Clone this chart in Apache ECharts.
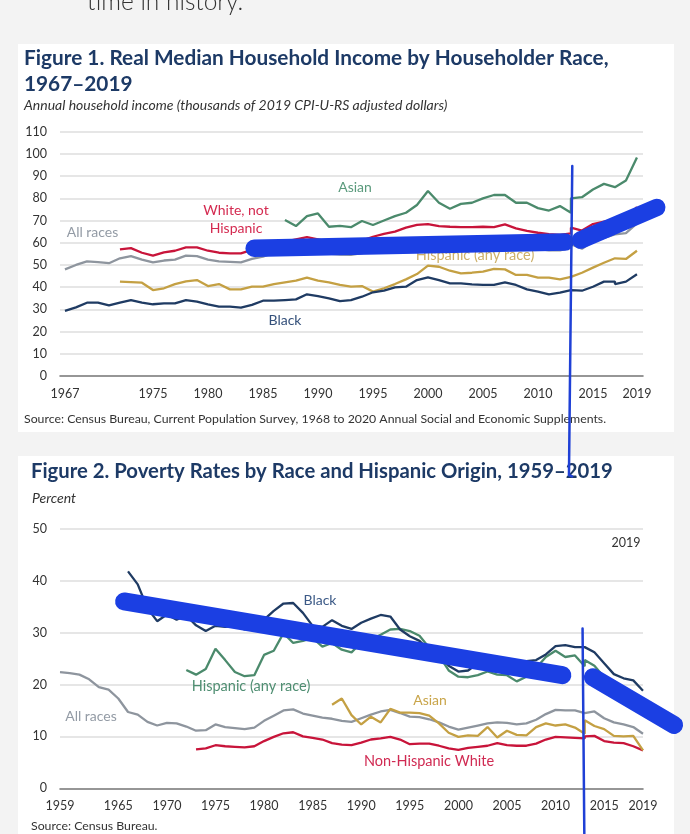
<!DOCTYPE html>
<html>
<head>
<meta charset="utf-8">
<script src="https://cdn.jsdelivr.net/npm/echarts@6/dist/echarts.min.js"></script>
<style>
html,body{margin:0;padding:0;background:#f3f3f3;width:690px;height:834px;overflow:hidden;}
.card{position:absolute;background:#ffffff;}
#c1{left:18px;top:44px;width:656px;height:388px;}
#c2{left:18px;top:456px;width:656px;height:400px;}
#chart{position:absolute;left:0;top:0;width:690px;height:834px;}
</style>
</head>
<body>
<div class="card" id="c1"></div>
<div class="card" id="c2"></div>
<div id="chart"></div>
<script>
// ---------- Figure 1 data: real median household income (thousands of 2019 dollars) ----------
const incYears = [1967,1968,1969,1970,1971,1972,1973,1974,1975,1976,1977,1978,1979,1980,1981,1982,1983,1984,1985,1986,1987,1988,1989,1990,1991,1992,1993,1994,1995,1996,1997,1998,1999,2000,2001,2002,2003,2004,2005,2006,2007,2008,2009,2010,2011,2012,2013,2013,2014,2015,2016,2017,2017,2018,2019];
const incAsian = [null,null,null,null,null,null,null,null,null,null,null,null,null,null,null,null,null,null,null,null,70.2,67.5,72.0,73.2,67.2,67.6,67.0,69.8,68.0,70.0,72.0,73.5,77.0,83.3,78.0,75.3,77.5,78.0,80.0,81.5,81.5,78.0,78.0,75.6,74.5,76.5,73.5,80.0,80.5,84.0,86.5,85.0,85.0,88.0,98.4];
const incWhite = [null,null,null,null,null,57.0,57.6,55.5,54.2,55.7,56.4,57.9,57.9,56.4,55.5,55.2,55.2,56.8,57.8,59.6,60.5,61.5,62.5,61.5,60.3,60.2,60.5,61.0,62.7,64.0,65.0,66.8,68.0,68.4,67.5,67.2,67.0,67.0,67.2,67.0,68.3,66.5,65.3,64.5,63.9,63.5,64.2,66.8,65.5,68.4,69.5,70.5,70.6,70.8,76.1];
const incAll = [48.0,50.0,51.6,51.3,50.8,53.0,54.0,52.4,51.2,52.0,52.4,54.2,54.0,52.4,51.6,51.4,51.2,52.7,53.7,55.5,56.2,56.7,57.3,56.5,55.1,54.7,54.6,55.3,56.6,57.4,58.4,60.4,61.8,61.7,60.3,59.7,59.6,59.5,60.0,60.4,61.2,59.1,58.7,57.2,56.6,56.6,57.8,59.3,57.3,60.6,62.2,63.8,64.0,64.3,68.7];
const incHisp = [null,null,null,null,null,42.5,42.3,42.0,38.7,39.5,41.4,42.6,43.2,40.5,41.4,39.0,39.0,40.2,40.2,41.4,42.2,42.9,44.3,42.9,42.2,41.0,40.2,40.5,38.0,39.5,41.4,43.5,45.9,49.7,49.2,47.4,46.2,46.5,47.0,48.2,48.0,45.5,45.5,44.3,44.3,43.5,44.6,45.2,46.5,48.8,51.0,53.0,53.0,52.7,56.4];
const incBlack = [29.3,30.9,33.0,33.0,31.8,33.0,34.2,33.0,32.3,32.7,32.7,34.2,33.5,32.3,31.2,31.2,30.8,32.0,33.9,33.9,34.2,34.5,36.8,36.0,35.0,33.7,34.2,35.7,37.7,38.4,39.9,40.2,43.2,44.4,43.2,41.7,41.7,41.3,41.0,41.0,42.2,41.0,39.0,38.0,36.8,37.5,38.7,39.0,38.4,40.2,42.5,42.5,41.4,42.5,45.8];
const incXTicks = [1967,1975,1980,1985,1990,1995,2000,2005,2010,2015,2019];

// ---------- Figure 2 data: poverty rates (percent) ----------
const povYears = [1959,1960,1961,1962,1963,1964,1965,1966,1967,1968,1969,1970,1971,1972,1973,1974,1975,1976,1977,1978,1979,1980,1981,1982,1983,1984,1985,1986,1987,1988,1989,1990,1991,1992,1993,1994,1995,1996,1997,1998,1999,2000,2001,2002,2003,2004,2005,2006,2007,2008,2009,2010,2011,2012,2013,2013,2014,2015,2016,2017,2018,2019];
const povBlack = [null,null,null,null,null,null,null,41.8,39.3,34.7,32.2,33.5,32.5,33.3,31.4,30.3,31.3,31.1,31.3,30.6,31.0,32.5,34.2,35.6,35.7,33.8,31.3,31.1,32.4,31.3,30.7,31.9,32.7,33.4,33.1,30.6,29.3,28.4,26.5,26.1,23.6,22.5,22.7,24.1,24.4,24.7,24.9,24.3,24.5,24.7,25.8,27.4,27.6,27.2,27.2,27.1,26.2,24.1,22.0,21.2,20.8,18.8];
const povHisp = [null,null,null,null,null,null,null,null,null,null,null,null,null,22.8,21.9,23.0,26.9,24.7,22.4,21.6,21.8,25.7,26.5,29.9,28.0,28.4,29.0,27.3,28.0,26.7,26.2,28.1,28.7,29.6,30.6,30.7,30.3,29.4,27.1,25.6,22.7,21.5,21.4,21.8,22.5,21.9,21.8,20.6,21.5,23.2,25.3,26.5,25.3,25.6,23.5,24.7,23.6,21.4,19.4,18.3,17.6,15.7];
const povAll = [22.4,22.2,21.9,21.0,19.5,19.0,17.3,14.7,14.2,12.8,12.1,12.6,12.5,11.9,11.1,11.2,12.3,11.8,11.6,11.4,11.7,13.0,14.0,15.0,15.2,14.4,14.0,13.6,13.4,13.0,12.8,13.5,14.2,14.8,15.1,14.5,13.8,13.7,13.3,12.7,11.9,11.3,11.7,12.1,12.5,12.7,12.6,12.3,12.5,13.2,14.3,15.1,15.0,15.0,14.5,14.8,14.8,13.5,12.7,12.3,11.8,10.5];
const povAsian = [null,null,null,null,null,null,null,null,null,null,null,null,null,null,null,null,null,null,null,null,null,null,null,null,null,null,null,null,16.1,17.3,14.1,12.3,13.8,12.7,15.3,14.6,14.6,14.5,14.0,12.5,10.7,9.9,10.2,10.1,11.8,9.8,11.1,10.3,10.2,11.8,12.5,12.1,12.3,11.7,10.5,13.1,12.0,11.4,10.1,10.0,10.1,7.3];
const povWhite = [null,null,null,null,null,null,null,null,null,null,null,null,null,null,7.5,7.7,8.3,8.1,8.0,7.9,8.1,9.1,9.9,10.6,10.8,10.0,9.7,9.4,8.7,8.4,8.3,8.8,9.4,9.6,9.9,9.4,8.5,8.6,8.6,8.2,7.7,7.4,7.8,8.0,8.2,8.7,8.3,8.2,8.2,8.6,9.4,9.9,9.8,9.7,9.6,10.0,10.1,9.1,8.8,8.7,8.1,7.3];
const povXTicks = [1959,1965,1970,1975,1980,1985,1990,1995,2000,2005,2010,2015,2019];

// ---------- hand-drawn blue annotation strokes (in data units of each chart) ----------
const incStroke1 = [[1984.2,57.5],[2012.45,60.3]];
const incStroke2 = [[2013.86,61.2],[2020.8,75.9]];
const incDivider = [[2013.12,94.6],[2012.82,-44.6],[2013.1,-45.2]];
const povStroke1 = [[1965.6,36.0],[2010.7,21.8]];
const povStroke2 = [[2013.84,21.4],[2022.2,12.2]];
const povDivider = [[2012.78,30.8],[2012.96,-8.7]];

const FONT = 'Lato, "Open Sans", sans-serif';
function pairs(xs, ys){ const out=[]; xs.forEach((x,i)=>{ if(ys[i]!==null) out.push([x,ys[i]]); }); return out; }

const C = {asian:'#4b8a6c', white:'#c8143a', all:'#8e959e', hisp:'#c4a043', black:'#1f3b63', blue:'#1b3fe3', div:'#1f40d6'};

// visible grids (0: income, 1: poverty) and full-canvas overlay grids (2, 3) sharing the same scales
const G1 = {left:60, right:47, top:131.7, height:244.3};
const G2 = {left:60, right:47, top:528.8, height:259.5};
const inc = {xmin:1966.55, xmax:2019.55, ymin:0, ymax:110};
const pov = {xmin:1959, xmax:2019, ymin:0, ymax:50};
function overlayRange(g, r){
  const W = 690, H = 834, w = W - g.left - g.right;
  const pxX = w / (r.xmax - r.xmin), pxY = g.height / (r.ymax - r.ymin);
  const bottom = g.top + g.height;
  return {xmin: r.xmin - g.left / pxX, xmax: r.xmax + g.right / pxX,
          ymax: r.ymin + bottom / pxY, ymin: r.ymin - (H - bottom) / pxY};
}
const o1 = overlayRange(G1, inc), o2 = overlayRange(G2, pov);

function dataLine(name, xs, ys, color, gi){
  return {type:'line', name, xAxisIndex:gi, yAxisIndex:gi, data:pairs(xs,ys), symbol:'none',
    lineStyle:{color, width:2.3}, z:3, silent:true, animation:false};
}
function stroke(data, width, gi, color){
  return {type:'line', xAxisIndex:gi, yAxisIndex:gi, data, symbol:'none', clip:false,
    lineStyle:{color:color||C.blue, width, cap:'round', join:'round'}, z:10, silent:true, animation:false};
}
function txt(text, x, y, color, size, opts){
  return Object.assign({type:'text', z:1, silent:true, style:Object.assign({text, x, y, fill:color, font:(opts&&opts.font)||(size+'px '+FONT), align:'center', verticalAlign:'middle'}, (opts&&opts.style)||{})}, (opts&&opts.el)||{});
}

const axisLbl = {color:'#333', fontSize:12.5, fontFamily:FONT, formatter:(v)=>String(v)};
const hiddenAxis = {show:false, splitLine:{show:false}};
const chart = echarts.init(document.getElementById('chart'), null, {renderer:'canvas'});
chart.setOption({
  backgroundColor:'transparent',
  animation:false,
  grid:[G1, G2, {left:0, right:0, top:0, bottom:0}, {left:0, right:0, top:0, bottom:0}],
  xAxis:[
    {type:'value', gridIndex:0, min:inc.xmin, max:inc.xmax, splitLine:{show:false}, axisTick:{show:false},
     axisLine:{lineStyle:{color:'#7c7c7c', width:1.6}}, axisLabel:Object.assign({customValues:incXTicks, margin:11}, axisLbl)},
    {type:'value', gridIndex:1, min:pov.xmin, max:pov.xmax, splitLine:{show:false}, axisTick:{show:false},
     axisLine:{lineStyle:{color:'#7c7c7c', width:1.6}}, axisLabel:Object.assign({customValues:povXTicks, margin:11}, axisLbl)},
    Object.assign({type:'value', gridIndex:2, min:o1.xmin, max:o1.xmax}, hiddenAxis),
    Object.assign({type:'value', gridIndex:3, min:o2.xmin, max:o2.xmax}, hiddenAxis)
  ],
  yAxis:[
    {type:'value', gridIndex:0, min:inc.ymin, max:inc.ymax, interval:10, axisLine:{show:false}, axisTick:{show:false},
     splitLine:{lineStyle:{color:'#dedede', width:1.5}}, axisLabel:Object.assign({margin:13}, axisLbl)},
    {type:'value', gridIndex:1, min:pov.ymin, max:pov.ymax, interval:10, axisLine:{show:false}, axisTick:{show:false},
     splitLine:{lineStyle:{color:'#dedede', width:1.5}}, axisLabel:Object.assign({margin:13}, axisLbl)},
    Object.assign({type:'value', gridIndex:2, min:o1.ymin, max:o1.ymax}, hiddenAxis),
    Object.assign({type:'value', gridIndex:3, min:o2.ymin, max:o2.ymax}, hiddenAxis)
  ],
  series:[
    dataLine('All races', incYears, incAll, C.all, 0),
    dataLine('Hispanic (any race)', incYears, incHisp, C.hisp, 0),
    dataLine('Black', incYears, incBlack, C.black, 0),
    dataLine('White, not Hispanic', incYears, incWhite, C.white, 0),
    dataLine('Asian', incYears, incAsian, C.asian, 0),
    dataLine('All races', povYears, povAll, C.all, 1),
    dataLine('Non-Hispanic White', povYears, povWhite, C.white, 1),
    dataLine('Asian', povYears, povAsian, C.hisp, 1),
    dataLine('Hispanic (any race)', povYears, povHisp, C.asian, 1),
    dataLine('Black', povYears, povBlack, C.black, 1),
    stroke(incStroke1, 17.5, 2), stroke(incStroke2, 17.5, 2), stroke(incDivider, 2.5, 2, C.div),
    stroke(povStroke1, 18, 3), stroke(povStroke2, 18, 3), stroke(povDivider, 2.5, 3, C.div)
  ],
  graphic:[
    txt('time in history.', 87, 15, '#333', 0, {font:'300 24.5px '+FONT, style:{align:'left', verticalAlign:'bottom'}}),
    // Figure 1 texts
    txt('Figure 1. Real Median Household Income by Householder Race,', 24, 58, '#1d3a66', 0, {font:'bold 20.8px '+FONT, style:{align:'left'}}),
    txt('1967\u20132019', 24, 84, '#1d3a66', 0, {font:'bold 20.8px '+FONT, style:{align:'left'}}),
    txt('Annual household income (thousands of 2019 CPI-U-RS adjusted dollars)', 24, 105, '#333', 0, {font:'italic 14px '+FONT, style:{align:'left'}}),
    txt('Source: Census Bureau, Current Population Survey, 1968 to 2020 Annual Social and Economic Supplements.', 24, 419, '#333', 0, {font:'12.3px '+FONT, style:{align:'left'}}),
    txt('Asian', 355, 187, '#5a9a7c', 14),
    txt('White, not', 236, 210, '#d42a50', 14),
    txt('Hispanic', 236, 228.5, '#d42a50', 14),
    txt('All races', 92.5, 232.5, '#939ba5', 14),
    txt('Black', 285, 320.5, '#34507a', 14),
    txt('Hispanic (any race)', 475, 255, '#cdb06a', 14.5),
    // Figure 2 texts
    txt('Figure 2. Poverty Rates by Race and Hispanic Origin, 1959\u20132019', 31, 471, '#1d3a66', 0, {font:'bold 20.3px '+FONT, style:{align:'left'}}),
    txt('Percent', 32, 498, '#333', 0, {font:'italic 14px '+FONT, style:{align:'left'}}),
    txt('2019', 626, 543, '#333', 12.5),
    txt('Black', 320, 600.5, '#3b5986', 14),
    txt('Hispanic (any race)', 251, 686, '#4f8e72', 14.5),
    txt('All races', 91, 716.5, '#939ba5', 14),
    txt('Asian', 430, 700, '#c9a54a', 14),
    txt('Non-Hispanic White', 429, 761.5, '#d02a52', 14.5),
    txt('Source: Census Bureau.', 31, 826, '#333', 0, {font:'12.3px '+FONT, style:{align:'left'}})
  ]
});
</script>
</body>
</html>
